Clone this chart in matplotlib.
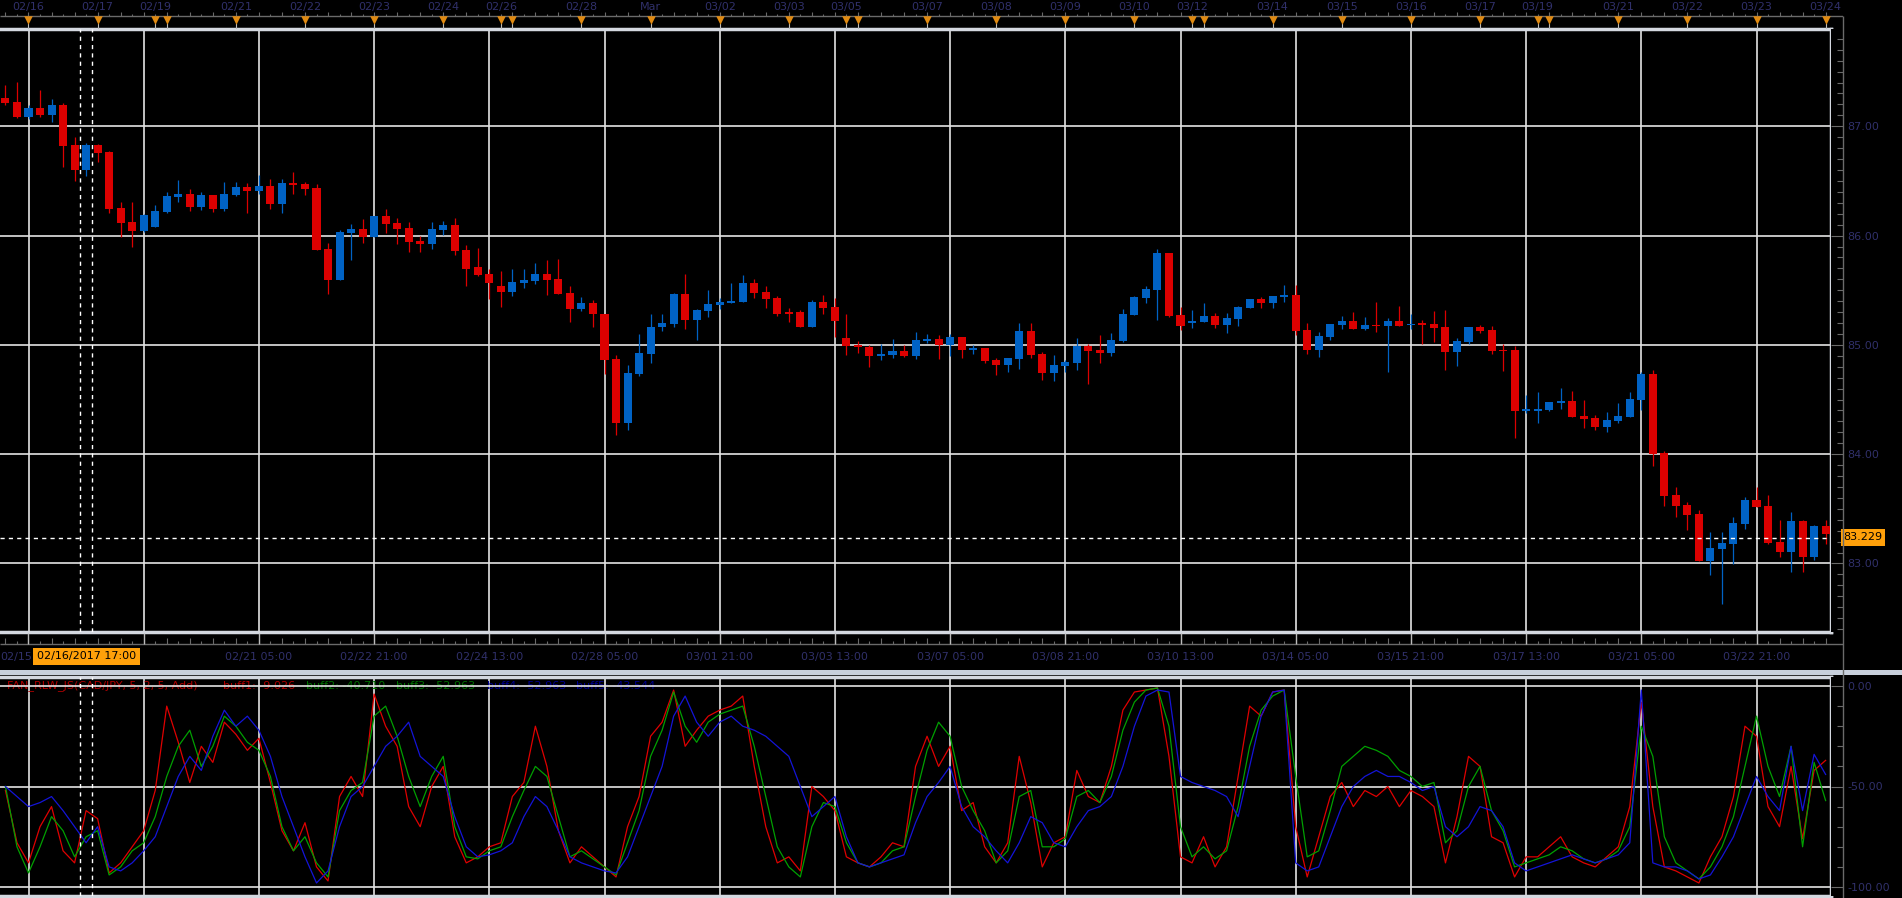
import numpy as np
import matplotlib
matplotlib.use("Agg")
import matplotlib.pyplot as plt
from matplotlib.patches import Rectangle
from matplotlib.ticker import MultipleLocator

plt.rcParams['font.family'] = ['DejaVu Sans']

W, H = 1902, 898
X0, BW = 28.5, 11.52          # pixel of bar 0, pixels per 4h bar

RED = "#dc0000"
BLUE = "#0062c4"
GRID = "#e4e4e4"
BORDER = "#d4d8e0"
TICK = "#6a6a6a"
LABEL = "#30306a"
ORANGE = "#ffa00a"
TRI = "#e08a12"

# ---- CAD/JPY H4 candles, first bar index = -2 ----
first_bar = -2
opens = [87.259, 87.222, 87.085, 87.167, 87.104, 87.195, 86.830, 86.601, 86.830, 86.766,
         86.254, 86.126, 86.044, 86.081, 86.218, 86.355, 86.382, 86.263, 86.373, 86.245,
         86.373, 86.446, 86.409, 86.455, 86.291, 86.483, 86.473, 86.437, 85.880, 85.597,
         86.026, 86.062, 85.989, 86.181, 86.117, 86.072, 85.953, 85.925, 86.053, 86.099,
         85.871, 85.709, 85.645, 85.535, 85.480, 85.563, 85.581, 85.645, 85.599, 85.471,
         85.324, 85.379, 85.287, 84.875, 84.287, 84.737, 84.920, 85.159, 85.187, 85.462,
         85.223, 85.306, 85.361, 85.379, 85.388, 85.563, 85.480, 85.425, 85.297, 85.297,
         85.159, 85.388, 85.343, 85.067, 85.003, 84.985, 84.902, 84.911, 84.948, 84.902,
         85.040, 85.055, 85.000, 85.073, 84.954, 84.972, 84.862, 84.817, 84.872, 85.128,
         84.917, 84.743, 84.807, 84.835, 84.991, 84.954, 84.927, 85.037, 85.275, 85.431,
         85.505, 85.844, 85.275, 85.202, 85.211, 85.266, 85.183, 85.239, 85.339, 85.422,
         85.385, 85.440, 85.459, 85.138, 84.954, 85.073, 85.183, 85.220, 85.147, 85.183,
         85.174, 85.220, 85.180, 85.192, 85.192, 85.165, 84.936, 85.027, 85.165, 85.137,
         84.954, 84.954, 84.395, 84.395, 84.405, 84.469, 84.487, 84.350, 84.331, 84.249,
         84.304, 84.340, 84.496, 84.734, 84.011, 83.626, 83.534, 83.452, 83.021, 83.131,
         83.177, 83.360, 83.580, 83.525, 83.195, 83.104, 83.388, 83.058, 83.342]
highs = [87.377, 87.405, 87.195, 87.332, 87.250, 87.213, 86.903, 86.848, 86.839, 86.775,
         86.309, 86.309, 86.199, 86.282, 86.400, 86.510, 86.428, 86.400, 86.373, 86.492,
         86.492, 86.483, 86.556, 86.519, 86.519, 86.583, 86.492, 86.473, 85.935, 86.053,
         86.108, 86.154, 86.181, 86.245, 86.163, 86.126, 85.998, 86.126, 86.135, 86.163,
         85.910, 85.884, 85.691, 85.673, 85.691, 85.691, 85.746, 85.774, 85.783, 85.535,
         85.434, 85.407, 85.287, 84.911, 84.820, 85.095, 85.287, 85.287, 85.471, 85.645,
         85.324, 85.498, 85.425, 85.563, 85.636, 85.599, 85.535, 85.443, 85.333, 85.315,
         85.407, 85.453, 85.425, 85.278, 85.040, 85.003, 85.012, 85.058, 85.003, 85.122,
         85.095, 85.092, 85.101, 85.073, 85.000, 84.972, 84.881, 84.881, 85.202, 85.202,
         84.936, 84.908, 84.862, 85.064, 85.009, 85.092, 85.110, 85.330, 85.450, 85.541,
         85.881, 85.844, 85.349, 85.321, 85.385, 85.294, 85.294, 85.358, 85.422, 85.440,
         85.450, 85.550, 85.550, 85.202, 85.119, 85.193, 85.266, 85.303, 85.257, 85.394,
         85.248, 85.357, 85.284, 85.229, 85.311, 85.321, 85.064, 85.165, 85.183, 85.174,
         85.009, 84.991, 84.542, 84.569, 84.478, 84.606, 84.579, 84.496, 84.359, 84.386,
         84.469, 84.569, 84.753, 84.771, 84.029, 83.699, 83.562, 83.489, 83.287, 83.287,
         83.424, 83.608, 83.699, 83.626, 83.397, 83.470, 83.397, 83.351, 83.397]
lows = [87.198, 87.079, 87.070, 87.085, 87.040, 86.623, 86.501, 86.546, 86.674, 86.209,
        85.989, 85.898, 86.035, 86.081, 86.209, 86.309, 86.227, 86.236, 86.218, 86.227,
        86.364, 86.209, 86.382, 86.245, 86.209, 86.382, 86.373, 85.871, 85.469, 85.597,
        85.779, 85.935, 85.989, 86.026, 85.925, 85.852, 85.852, 85.880, 86.008, 85.825,
        85.542, 85.627, 85.416, 85.343, 85.443, 85.517, 85.554, 85.453, 85.462, 85.205,
        85.306, 85.159, 84.737, 84.177, 84.223, 84.719, 84.838, 85.131, 85.168, 85.141,
        85.049, 85.251, 85.324, 85.379, 85.388, 85.425, 85.333, 85.260, 85.205, 85.159,
        85.159, 85.278, 85.076, 84.911, 84.930, 84.801, 84.865, 84.884, 84.893, 84.875,
        85.021, 84.872, 84.899, 84.881, 84.917, 84.835, 84.725, 84.752, 84.780, 84.881,
        84.679, 84.670, 84.752, 84.771, 84.642, 84.835, 84.899, 85.028, 85.275, 85.385,
        85.229, 85.257, 85.138, 85.156, 85.211, 85.156, 85.110, 85.174, 85.339, 85.339,
        85.339, 85.394, 85.092, 84.917, 84.890, 85.046, 85.147, 85.147, 85.138, 85.119,
        84.752, 85.174, 85.147, 85.009, 85.027, 84.771, 84.808, 85.009, 85.110, 84.918,
        84.762, 84.148, 84.377, 84.285, 84.395, 84.414, 84.340, 84.240, 84.221, 84.203,
        84.285, 84.340, 84.405, 83.892, 83.525, 83.424, 83.305, 83.021, 82.893, 82.627,
        82.994, 83.315, 83.516, 83.177, 83.058, 82.921, 82.921, 83.031, 83.177]
closes = [87.213, 87.085, 87.167, 87.104, 87.195, 86.820, 86.601, 86.830, 86.756, 86.245,
          86.117, 86.044, 86.190, 86.227, 86.364, 86.382, 86.263, 86.373, 86.245, 86.382,
          86.446, 86.409, 86.455, 86.291, 86.483, 86.464, 86.428, 85.871, 85.597, 86.035,
          86.062, 85.989, 86.181, 86.108, 86.062, 85.944, 85.925, 86.062, 86.099, 85.861,
          85.697, 85.636, 85.563, 85.480, 85.572, 85.590, 85.645, 85.590, 85.462, 85.324,
          85.379, 85.278, 84.865, 84.287, 84.746, 84.930, 85.168, 85.196, 85.462, 85.223,
          85.315, 85.370, 85.388, 85.398, 85.563, 85.471, 85.416, 85.287, 85.287, 85.159,
          85.388, 85.333, 85.214, 84.994, 84.976, 84.902, 84.920, 84.948, 84.902, 85.049,
          85.058, 85.000, 85.073, 84.954, 84.972, 84.853, 84.817, 84.881, 85.128, 84.908,
          84.743, 84.817, 84.844, 84.991, 84.945, 84.927, 85.046, 85.284, 85.440, 85.514,
          85.844, 85.266, 85.174, 85.220, 85.266, 85.183, 85.248, 85.349, 85.422, 85.385,
          85.450, 85.459, 85.128, 84.954, 85.083, 85.193, 85.220, 85.147, 85.183, 85.174,
          85.220, 85.174, 85.192, 85.186, 85.156, 84.936, 85.037, 85.165, 85.128, 84.945,
          84.945, 84.395, 84.414, 84.414, 84.478, 84.487, 84.340, 84.322, 84.249, 84.313,
          84.350, 84.505, 84.734, 84.002, 83.617, 83.525, 83.443, 83.021, 83.140, 83.186,
          83.369, 83.580, 83.516, 83.186, 83.104, 83.388, 83.058, 83.342, 83.269]
last_price = 83.229
cursor_bar = 5
cursor_label = "02/16/2017 17:00"

# ---- FAN_RLW_JS oscillator buffers (same bars as the candles) ----
buff_red = [-52, -78, -88, -70, -60, -82, -88, -62, -66, -93,
            -88, -80, -72, -52, -10, -28, -48, -30, -38, -18,
            -24, -32, -26, -48, -72, -82, -68, -90, -97, -55,
            -45, -55, -4, -20, -30, -60, -70, -50, -40, -75,
            -88, -85, -80, -78, -55, -48, -20, -40, -72, -88,
            -80, -85, -90, -95, -70, -55, -25, -18, -2, -30,
            -22, -15, -12, -10, -5, -40, -70, -88, -85, -92,
            -50, -55, -62, -85, -88, -90, -85, -78, -80, -40,
            -25, -40, -30, -62, -58, -80, -88, -78, -35, -58,
            -90, -78, -75, -42, -55, -58, -40, -12, -3, -2,
            -1, -35, -85, -88, -75, -90, -80, -45, -10, -15,
            -3, -2, -70, -95, -75, -55, -48, -60, -52, -55,
            -50, -60, -52, -55, -60, -88, -65, -35, -40, -75,
            -78, -95, -85, -85, -80, -75, -85, -88, -90, -85,
            -80, -60, -8, -60, -90, -92, -95, -98, -85, -75,
            -55, -20, -25, -60, -70, -40, -76, -42, -37]
buff_green = [-50, -80, -93, -80, -65, -72, -85, -75, -72, -94,
              -90, -82, -78, -65, -45, -30, -22, -40, -30, -15,
              -20, -28, -32, -45, -70, -82, -75, -88, -95, -62,
              -52, -48, -15, -10, -25, -45, -60, -45, -35, -70,
              -85, -86, -82, -80, -65, -52, -40, -45, -65, -85,
              -82, -86, -90, -94, -78, -62, -35, -22, -3, -20,
              -28, -18, -14, -12, -10, -30, -55, -80, -90, -95,
              -70, -58, -60, -78, -88, -90, -88, -82, -80, -55,
              -32, -18, -25, -50, -62, -72, -88, -82, -55, -52,
              -80, -80, -76, -55, -52, -58, -45, -22, -8, -2,
              -1, -20, -70, -85, -80, -86, -82, -60, -30, -12,
              -5, -2, -45, -85, -82, -62, -40, -35, -30, -32,
              -35, -42, -45, -50, -48, -78, -72, -50, -40, -62,
              -72, -90, -88, -86, -84, -80, -82, -86, -88, -86,
              -82, -70, -20, -35, -75, -88, -92, -96, -90, -80,
              -65, -40, -15, -40, -55, -30, -80, -38, -57]
buff_blue = [-50, -55, -60, -58, -55, -62, -70, -78, -70, -90,
             -92, -88, -82, -75, -60, -45, -35, -42, -25, -12,
             -20, -15, -22, -35, -55, -70, -85, -98, -92, -70,
             -55, -50, -40, -30, -25, -18, -35, -40, -45, -65,
             -80, -85, -84, -82, -78, -65, -55, -60, -72, -85,
             -88, -90, -92, -93, -85, -70, -55, -40, -15, -5,
             -18, -25, -18, -15, -20, -22, -25, -30, -35, -50,
             -65, -60, -55, -75, -88, -90, -88, -86, -84, -68,
             -55, -48, -40, -60, -70, -75, -82, -88, -78, -65,
             -68, -78, -80, -70, -62, -60, -55, -40, -20, -5,
             -2, -3, -45, -48, -50, -52, -55, -65, -40, -15,
             -3, -2, -88, -92, -90, -75, -60, -50, -45, -42,
             -45, -45, -48, -52, -50, -70, -75, -70, -60, -62,
             -70, -88, -92, -90, -88, -86, -84, -86, -88, -86,
             -84, -78, -2, -88, -90, -90, -92, -96, -94, -85,
             -75, -60, -45, -55, -62, -30, -62, -34, -44]

price_ticks = [83, 84, 85, 86, 87]
osc_ticks = [0, -50, -100]

grid_bars = list(range(0, 151, 10))
bottom_labels = {20: "02/21 05:00", 30: "02/22 21:00", 40: "02/24 13:00",
                 50: "02/28 05:00", 60: "03/01 21:00", 70: "03/03 13:00", 80: "03/07 05:00",
                 90: "03/08 21:00", 100: "03/10 13:00", 110: "03/14 05:00", 120: "03/15 21:00",
                 130: "03/17 13:00", 140: "03/21 05:00", 150: "03/22 21:00"}
day_bars = [0, 6, 11, 12, 18, 24, 30, 36, 41, 42, 48, 54, 60, 66, 71, 72, 78,
            84, 90, 96, 101, 102, 108, 114, 120, 126, 131, 132, 138, 144, 150, 156]
day_labels = {0: "02/16", 6: "02/17", 11: "02/19", 18: "02/21", 24: "02/22", 30: "02/23",
              36: "02/24", 41: "02/26", 48: "02/28", 54: "Mar", 60: "03/02", 66: "03/03",
              71: "03/05", 78: "03/07", 84: "03/08", 90: "03/09", 96: "03/10", 101: "03/12",
              108: "03/14", 114: "03/15", 120: "03/16", 126: "03/17", 131: "03/19",
              138: "03/21", 144: "03/22", 150: "03/23", 156: "03/24"}


def bar_x(px):
    return (px - X0) / BW


fig = plt.figure(figsize=(W / 100, H / 100), dpi=100, facecolor="black")


def px_axes(x0, y0, x1, y1):
    a = fig.add_axes([x0 / W, 1 - y1 / H, (x1 - x0) / W, (y1 - y0) / H])
    a.set_facecolor("black")
    return a


def frame(a):
    a.set_xticks([])
    a.set_yticks([])
    for s in ["top", "right", "bottom"]:
        a.spines[s].set_color(BORDER)
        a.spines[s].set_linewidth(2.5)
    a.spines["left"].set_visible(False)


# ---------------- main price panel ----------------
ax = px_axes(0, 29, 1831, 632)
ax.set_xlim(bar_x(0), bar_x(1831))
ax.set_ylim(82.373, 87.890)
frame(ax)

bars = np.arange(first_bar, first_bar + len(opens))
o, h, l, c = (np.array(v) for v in (opens, highs, lows, closes))
cols = np.where(c >= o, BLUE, RED)
ax.vlines(bars, l, h, colors=cols, lw=0.9, zorder=3)
ax.bar(bars, np.maximum(np.abs(c - o), 0.012), bottom=np.minimum(o, c), width=0.7,
       color=cols, linewidth=0, zorder=4)

for b in grid_bars:
    ax.axvline(b, color=GRID, lw=1.2, zorder=1)
for p in price_ticks:
    ax.axhline(p, color=GRID, lw=1.2, zorder=1)
ax.hlines(last_price, bar_x(0), bar_x(80), colors="white", lw=1, linestyles=(0, (3, 3)), zorder=5)
ax.hlines(last_price, bar_x(97), bar_x(1831), colors="white", lw=1, linestyles=(0, (3, 3)), zorder=5)
for xv in (cursor_bar - 0.5, cursor_bar + 0.5):
    ax.axvline(xv, color="white", lw=1, ls=(0, (3, 3)), zorder=5)

rax = px_axes(1831, 29, 1843, 632)
rax.set_ylim(ax.get_ylim())
rax.set_xticks([])
for s in rax.spines.values():
    s.set_visible(False)
rax.yaxis.tick_right()
rax.set_yticks(price_ticks)
rax.set_yticklabels([f"{p:.2f}" for p in price_ticks])
rax.yaxis.set_minor_locator(MultipleLocator(0.1))
rax.tick_params(axis="y", which="major", direction="in", length=8.6, width=0.8,
                color=TICK, pad=3, labelsize=8, labelcolor=LABEL)
rax.tick_params(axis="y", which="minor", direction="in", length=4, width=0.8, color=TICK)

# ---------------- top date axis ----------------
tax = px_axes(0, 0, 1843, 29)
tax.set_xlim(bar_x(0), bar_x(1843))
tax.set_ylim(29, 0)
tax.axis("off")
all_bars = np.arange(-2, 157)
tax.hlines(16, bar_x(0), bar_x(1843), colors=TICK, lw=1)
tax.vlines(all_bars, np.where(all_bars % 2 == 0, 12, 14), 16, colors=TICK, lw=0.8)
tax.vlines(day_bars, 23, 29, colors="#bbbbbb", lw=0.8)
tax.scatter(day_bars, [20] * len(day_bars), marker="v", s=38, color=TRI, linewidths=0, zorder=3)
for b, t in day_labels.items():
    tax.text(b, 7, t, color=LABEL, fontsize=8, ha="center", va="center")

# ---------------- bottom date axis ----------------
bax = px_axes(0, 632, 1843, 670)
bax.set_xlim(bar_x(0), bar_x(1843))
bax.set_ylim(38, 0)
bax.axis("off")
bax.hlines(12, bar_x(0), bar_x(1843), colors=TICK, lw=1)
bax.vlines(all_bars, np.where(all_bars % 2 == 0, 6, 9), 12, colors=TICK, lw=0.8)
bax.vlines(grid_bars, 1, 12, colors="#bbbbbb", lw=1)
bax.text(bar_x(32), 25, "02/15", color=LABEL, fontsize=8, ha="right", va="center")
for b, t in bottom_labels.items():
    bax.text(b, 25, t, color=LABEL, fontsize=8, ha="center", va="center")

# ---------------- oscillator panel ----------------
lax = px_axes(0, 677, 1831, 896)
lax.set_xlim(bar_x(0), bar_x(1831))
lax.set_ylim(-104.48, 4.48)
frame(lax)
for b in grid_bars:
    lax.axvline(b, color=GRID, lw=1.2, zorder=1)
for v in osc_ticks:
    lax.axhline(v, color=GRID, lw=1.2, zorder=2)
lax.plot(bars, buff_red, color="#e00000", lw=0.9, zorder=3)
lax.plot(bars, buff_green, color="#00a000", lw=0.9, zorder=3)
lax.plot(bars, buff_blue, color="#1414d8", lw=0.9, zorder=3)
for xv in (cursor_bar - 0.5, cursor_bar + 0.5):
    lax.axvline(xv, color="white", lw=1, ls=(0, (3, 3)), zorder=5)

head = [(7, "FAN_RLW_JS(CAD/JPY, 5, 2, 5, Add)", "#b00000"),
        (223, "buff1: -9.026", "#b00000"),
        (306, "buff2: -40.710", "#007000"),
        (396, "buff3: -52.963", "#007000"),
        (487, "buff4: -52.963", "#000090"),
        (576, "buff5: -43.544", "#000090")]
for xp, t, col in head:
    lax.text(xp / W, 1 - 686 / H, t, transform=fig.transFigure, color=col, fontsize=8,
             ha="left", va="center", zorder=1.5)

lrax = px_axes(1831, 677, 1843, 896)
lrax.set_ylim(lax.get_ylim())
lrax.set_xticks([])
for s in lrax.spines.values():
    s.set_visible(False)
lrax.yaxis.tick_right()
lrax.set_yticks(osc_ticks)
lrax.set_yticklabels([f"{v:.2f}" for v in osc_ticks])
lrax.yaxis.set_minor_locator(MultipleLocator(10))
lrax.tick_params(axis="y", which="major", direction="in", length=8.6, width=0.8,
                 color=TICK, pad=3, labelsize=8, labelcolor=LABEL)
lrax.tick_params(axis="y", which="minor", direction="in", length=4, width=0.8, color=TICK)

# ---------------- overlay: separators and flags ----------------
ov = fig.add_axes([0, 0, 1, 1])
ov.set_xlim(0, W)
ov.set_ylim(H, 0)
ov.axis("off")
ov.patch.set_alpha(0)
ov.add_patch(Rectangle((0, 669.5), W, 5, color="#c8d0dc", lw=0))
ov.vlines(1843, 16, H, colors=TICK, lw=1)

ov.add_patch(Rectangle((1841, 529), 44, 17, color=ORANGE, lw=0))
ov.text(1863, 537.5, f"{last_price:.3f}", color="black", fontsize=8, ha="center", va="center")
ov.add_patch(Rectangle((33, 648), 107, 17, color=ORANGE, lw=0))
ov.text(86.5, 656.5, cursor_label, color="black", fontsize=8, ha="center", va="center")

fig.savefig("out.png", dpi=100, facecolor="black")
